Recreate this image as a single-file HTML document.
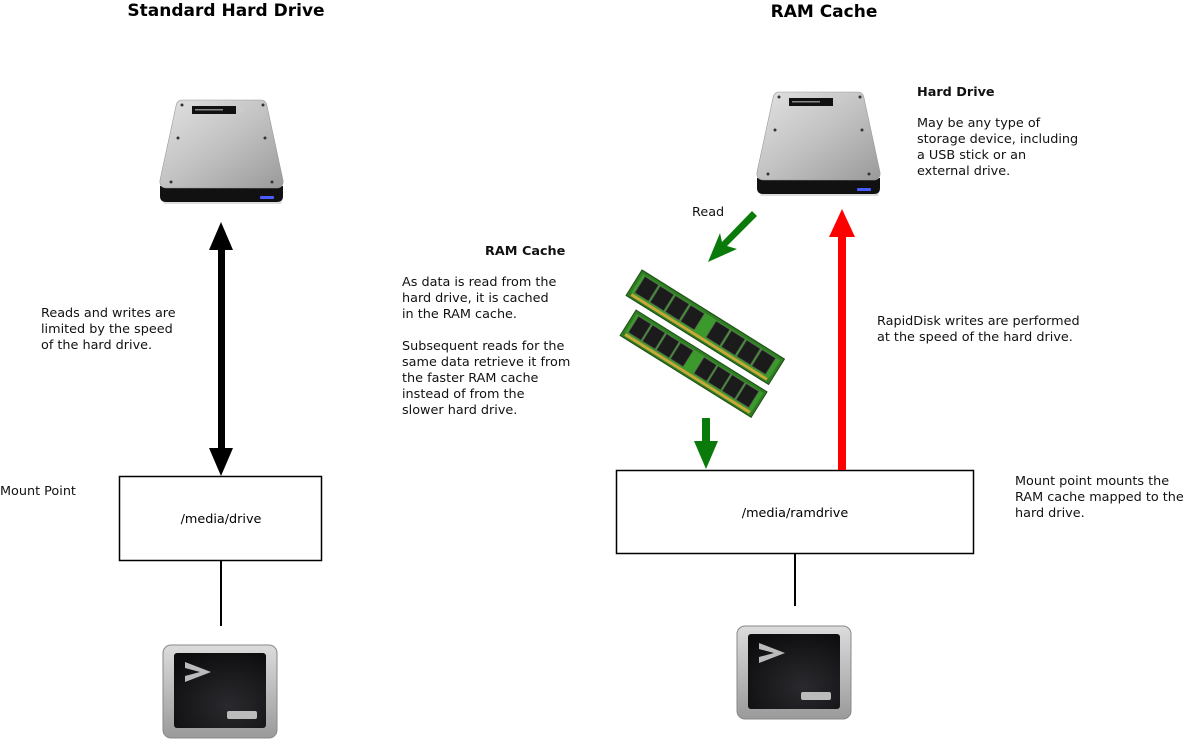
<!DOCTYPE html>
<html><head><meta charset="utf-8"><style>
html,body{margin:0;padding:0;background:#fff;}
svg{display:block;font-family:"DejaVu Sans","Liberation Sans",sans-serif;}
</style></head><body>
<svg width="1185" height="756" viewBox="0 0 1185 756" xmlns="http://www.w3.org/2000/svg">
<defs>
<linearGradient id="dg" x1="0" y1="0" x2="1" y2="1">
<stop offset="0" stop-color="#e2e2e2"/><stop offset="0.5" stop-color="#c2c2c2"/><stop offset="1" stop-color="#9a9a9a"/>
</linearGradient>
<linearGradient id="tg" x1="0" y1="0" x2="0" y2="1">
<stop offset="0" stop-color="#dcdcdc"/><stop offset="1" stop-color="#9a9a9a"/>
</linearGradient>
<radialGradient id="sg" cx="0.6" cy="0.7" r="0.8">
<stop offset="0" stop-color="#2a2a2e"/><stop offset="1" stop-color="#0c0c0e"/>
</radialGradient>
<g id="drive">
<path d="M2,98 L123,98 L121,104 L4,104 Z" fill="#ddd"/>
<path d="M0,86 L123,86 L123,96 Q123,102 117,102 L6,102 Q0,102 0,96 Z" fill="#111"/>
<path d="M22,0 L101,0 Q106,0 107,6 L123,80 Q124,88 116,88 L7,88 Q-1,88 0,80 L16,6 Q17,0 22,0 Z" fill="url(#dg)" stroke="#999" stroke-width="0.6"/>
<rect x="32" y="6" width="44" height="8" fill="#111"/>
<rect x="35" y="9" width="28" height="1.5" fill="#888"/>
<circle cx="82" cy="10" r="2" fill="#ccc"/>
<circle cx="22" cy="5" r="1.5" fill="#333"/><circle cx="103" cy="5" r="1.5" fill="#333"/>
<circle cx="18" cy="38" r="1.5" fill="#333"/><circle cx="105" cy="38" r="1.5" fill="#333"/>
<circle cx="11" cy="82" r="1.5" fill="#333"/><circle cx="112" cy="82" r="1.5" fill="#333"/>
<rect x="100" y="96" width="14" height="3" rx="1" fill="#4a5cff"/>
</g>
<g id="term">
<rect x="0" y="0" width="114" height="93" rx="8" fill="url(#tg)" stroke="#888" stroke-width="1"/>
<rect x="11" y="8" width="92" height="75" rx="3" fill="url(#sg)"/>
<path d="M22,17 L48,27 L22,37 L22,31 L37,27 L22,23 Z" fill="#bbb"/>
<rect x="64" y="66" width="30" height="8" rx="2" fill="#bbb"/>
</g>
<g id="stick">
<rect x="0" y="0" width="168" height="30" fill="#2f7d22" stroke="#1c4d14" stroke-width="1"/>
<rect x="3" y="3" width="162" height="22" fill="#3c9a2c"/>
<rect x="4" y="25" width="160" height="3" fill="#c9a83a"/>
<g fill="#1b1b1b" stroke="#555" stroke-width="0.7">
<rect x="6" y="4" width="16" height="19"/><rect x="24" y="4" width="16" height="19"/><rect x="42" y="4" width="16" height="19"/><rect x="60" y="4" width="16" height="19"/>
<rect x="90" y="4" width="16" height="19"/><rect x="108" y="4" width="16" height="19"/><rect x="126" y="4" width="16" height="19"/><rect x="144" y="4" width="16" height="19"/>
</g>
</g>
</defs>

<text x="226" y="16" font-size="17" font-weight="bold" text-anchor="middle">Standard Hard Drive</text>
<text x="824" y="17" font-size="17" font-weight="bold" text-anchor="middle">RAM Cache</text>

<use href="#drive" x="160" y="100"/>
<use href="#drive" x="757" y="92"/>

<rect x="218" y="245" width="7" height="208" fill="#000"/>
<path d="M221,222 L233,250 L209,250 Z" fill="#000"/>
<path d="M221,476 L233,448 L209,448 Z" fill="#000"/>

<g font-size="12.8" fill="#111">
<text x="41" y="317">Reads and writes are</text>
<text x="41" y="333">limited by the speed</text>
<text x="41" y="349">of the hard drive.</text>
<text x="0" y="495">Mount Point</text>
<text x="485" y="255" font-weight="bold">RAM Cache</text>
<text x="402" y="286">As data is read from the</text>
<text x="402" y="302">hard drive, it is cached</text>
<text x="402" y="318">in the RAM cache.</text>
<text x="402" y="350">Subsequent reads for the</text>
<text x="402" y="366">same data retrieve it from</text>
<text x="402" y="382">the faster RAM cache</text>
<text x="402" y="398">instead of from the</text>
<text x="402" y="414">slower hard drive.</text>
<text x="917" y="96" font-weight="bold">Hard Drive</text>
<text x="917" y="127">May be any type of</text>
<text x="917" y="143">storage device, including</text>
<text x="917" y="159">a USB stick or an</text>
<text x="917" y="175">external drive.</text>
<text x="692" y="216">Read</text>
<text x="877" y="325">RapidDisk writes are performed</text>
<text x="877" y="341">at the speed of the hard drive.</text>
<text x="1015" y="485">Mount point mounts the</text>
<text x="1015" y="501">RAM cache mapped to the</text>
<text x="1015" y="517">hard drive.</text>
</g>

<rect x="119.5" y="476.5" width="202" height="84" fill="#fff" stroke="#000" stroke-width="1.5"/>
<text x="221" y="523" font-size="12.8" text-anchor="middle">/media/drive</text>
<rect x="616.5" y="470.5" width="357" height="83" fill="#fff" stroke="#000" stroke-width="1.5"/>
<text x="795" y="517" font-size="12.8" text-anchor="middle">/media/ramdrive</text>
<line x1="221" y1="561" x2="221" y2="626" stroke="#000" stroke-width="2"/>
<line x1="795" y1="554" x2="795" y2="606" stroke="#000" stroke-width="2"/>

<use href="#term" x="163" y="645"/>
<use href="#term" x="737" y="626"/>

<g transform="translate(642,270) rotate(32)"><use href="#stick"/></g>
<g transform="translate(636,310) rotate(32) scale(0.92,1)"><use href="#stick"/></g>

<path d="M752,211 L757,216 L727,246 L737,249 L708,262 L720,233 L722,242 Z" fill="#0a7a0a"/>
<rect x="702" y="418" width="8" height="25" fill="#0a7a0a"/>
<path d="M694,441 L718,441 L706,469 Z" fill="#0a7a0a"/>

<rect x="838" y="234" width="8" height="236" fill="#f00"/>
<path d="M842,209 L855,237 L829,237 Z" fill="#f00"/>
</svg>
</body></html>
